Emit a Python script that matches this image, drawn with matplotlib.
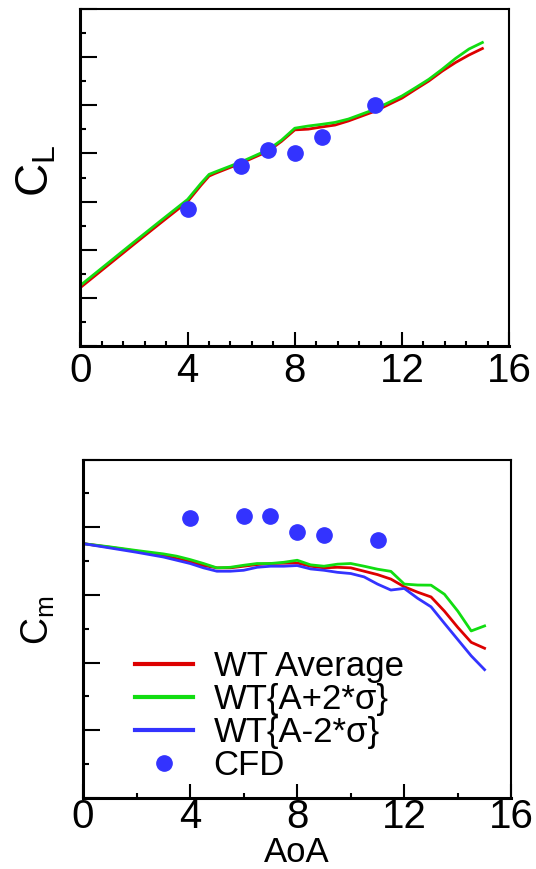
import matplotlib
matplotlib.use("Agg")
import matplotlib.pyplot as plt
from matplotlib.ticker import MultipleLocator, NullFormatter

# Fuente general
plt.rcParams["font.family"] = ["Liberation Sans", "DejaVu Sans"]
plt.rcParams["mathtext.fontset"] = "custom"
plt.rcParams["mathtext.rm"] = "Liberation Sans"
plt.rcParams["mathtext.it"] = "Liberation Sans"

# Datos: coeficiente de sustentacion
aoa_cl = [0, 1, 2, 3, 4, 4.5, 4.8, 5, 6, 7, 7.5, 8, 8.5, 9, 9.5, 10, 11, 12, 12.5, 13, 13.5, 14, 14.5, 15]
cl_wt_avg = [0.243, 0.333, 0.423, 0.512, 0.600, 0.668, 0.706, 0.716, 0.760, 0.809, 0.850, 0.898,
             0.901, 0.910, 0.918, 0.935, 0.976, 1.030, 1.066, 1.101, 1.142, 1.178, 1.209, 1.236]
cl_wt_plus = [0.252, 0.342, 0.432, 0.521, 0.609, 0.676, 0.713, 0.722, 0.765, 0.815, 0.855, 0.905,
              0.914, 0.921, 0.929, 0.943, 0.984, 1.039, 1.073, 1.108, 1.150, 1.195, 1.234, 1.261]
aoa_cfd = [4, 6, 7, 8, 9, 11]
cl_cfd = [0.568, 0.748, 0.815, 0.801, 0.869, 1.001]

# Datos: coeficiente de momento
aoa_cm = [0, 1, 2, 3, 3.5, 4, 4.5, 5, 5.5, 6, 6.5, 7, 7.5, 8, 8.5, 9, 9.5, 10, 10.5,
          11, 11.5, 12, 12.5, 13, 13.5, 14, 14.5, 15]
cm_wt_avg = [-0.0121, -0.0148, -0.0177, -0.0209, -0.0232, -0.0254, -0.0283, -0.0300, -0.0300,
             -0.0288, -0.0276, -0.0268, -0.0266, -0.0264, -0.0288, -0.0300, -0.0296, -0.0300,
             -0.0325, -0.0350, -0.0383, -0.0440, -0.0480, -0.0515, -0.0620, -0.0740, -0.0850, -0.0894]
cm_wt_plus = [-0.0121, -0.0145, -0.0172, -0.0197, -0.0214, -0.0239, -0.0268, -0.0300, -0.0296,
              -0.0281, -0.0268, -0.0268, -0.0259, -0.0244, -0.0278, -0.0288, -0.0273, -0.0268,
              -0.0288, -0.0310, -0.0326, -0.0420, -0.0427, -0.0428, -0.0495, -0.0620, -0.0766, -0.0729]
cm_wt_minus = [-0.0121, -0.0153, -0.0185, -0.0220, -0.0244, -0.0268, -0.0300, -0.0325, -0.0325,
               -0.0318, -0.0296, -0.0288, -0.0288, -0.0283, -0.0308, -0.0318, -0.0333, -0.0342,
               -0.0367, -0.0420, -0.0464, -0.0452, -0.0525, -0.0588, -0.0710, -0.0830, -0.0950, -0.1052]
cm_cfd = [0.0069, 0.0086, 0.0086, -0.0037, -0.0054, -0.0091]

legend_labels = ["WT Average", "WT{A+2*\u03c3}", "WT{A-2*\u03c3}", "CFD"]

red = "#dd0000"
green = "#11dd11"
blue = "#3333ff"

fig = plt.figure(figsize=(5.36, 8.69), dpi=100)
ax1 = fig.add_axes([0.150, 0.6018, 0.800, 0.3878])
ax2 = fig.add_axes([0.155, 0.0817, 0.799, 0.3895])


def style_axes(ax, xminor, ymajor, yminor, xpad):
    ax.set_xlim(0, 16)
    ax.xaxis.set_major_locator(MultipleLocator(4))
    ax.xaxis.set_minor_locator(MultipleLocator(xminor))
    ax.yaxis.set_major_locator(MultipleLocator(ymajor))
    ax.yaxis.set_minor_locator(MultipleLocator(yminor))
    ax.yaxis.set_major_formatter(NullFormatter())
    ax.tick_params(axis="both", which="both", direction="in", top=False, right=False, width=1.5)
    ax.tick_params(axis="y", which="major", length=12.5)
    ax.tick_params(axis="y", which="minor", length=4)
    ax.tick_params(axis="x", which="major", length=10, labelsize=29, pad=xpad)
    ax.tick_params(axis="x", which="minor", length=3.5)
    for side in ["left", "bottom"]:
        ax.spines[side].set_linewidth(2.2)
    for side in ["top", "right"]:
        ax.spines[side].set_linewidth(1.5)


# Panel superior: CL
ax1.plot(aoa_cl, cl_wt_avg, color=red, lw=2)
ax1.plot(aoa_cl, cl_wt_plus, color=green, lw=2)
ax1.plot(aoa_cfd, cl_cfd, "o", color=blue, ms=11, mec=blue)
ax1.set_ylim(0, 1.4)
style_axes(ax1, 0.8, 0.2, 0.1, 4)
fig.text(0.068, 0.803, r"$\mathregular{C_L}$", rotation=90, ha="center", va="center", fontsize=33)

# Panel inferior: Cm
ax2.plot(aoa_cm, cm_wt_avg, color=red, lw=2, label=legend_labels[0])
ax2.plot(aoa_cm, cm_wt_plus, color=green, lw=2, label=legend_labels[1])
ax2.plot(aoa_cm, cm_wt_minus, color=blue, lw=2, label=legend_labels[2])
ax2.plot(aoa_cfd, cm_cfd, "o", color=blue, ms=11, mec=blue, label=legend_labels[3])
ax2.set_ylim(-0.20, 0.05)
style_axes(ax2, 2, 0.05, 0.025, 0)
ax2.set_xlabel("AoA", fontsize=25)
ax2.xaxis.set_label_coords(0.5, -0.1125)
fig.text(0.071, 0.2865, r"$\mathregular{C_m}$", rotation=90, ha="center", va="center", fontsize=27)

leg = ax2.legend(loc="center left", bbox_to_anchor=(0.121, 0.242), frameon=False,
                 fontsize=25, handlelength=1.68, handletextpad=0.59, labelspacing=0.0,
                 borderpad=0, borderaxespad=0, numpoints=1)
for line in leg.get_lines():
    line.set_linewidth(3)

fig.savefig("out.png", dpi=100)
